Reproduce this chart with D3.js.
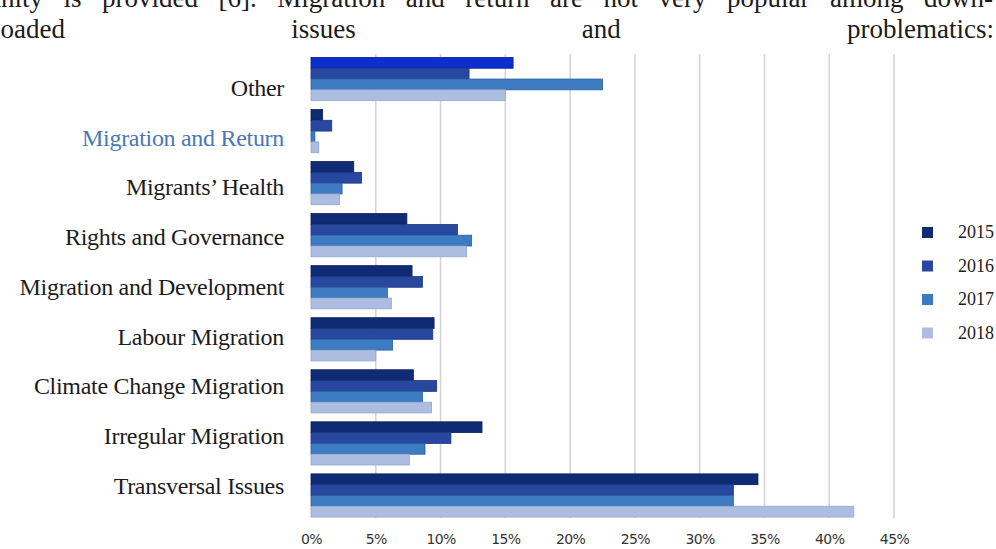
<!DOCTYPE html>
<html><head><meta charset="utf-8">
<script src="https://cdn.jsdelivr.net/npm/d3@7"></script>
<style>
html,body{margin:0;padding:0;background:#fff;overflow:hidden}
svg{display:block}
</style></head>
<body>
<svg id="chart" width="996" height="549"></svg>
<script>
// Share of downloads by topic, per year (percent)
const categories = [
  "Other",
  "Migration and Return",
  "Migrants’ Health",
  "Rights and Governance",
  "Migration and Development",
  "Labour Migration",
  "Climate Change Migration",
  "Irregular Migration",
  "Transversal Issues"
];
const years = ["2015", "2016", "2017", "2018"];
const values2015 = [15.6, 0.9, 3.3, 7.4, 7.8, 9.5, 7.9, 13.2, 34.5];
const values2016 = [12.2, 1.6, 3.9, 11.3, 8.6, 9.4, 9.7, 10.8, 32.6];
const values2017 = [22.5, 0.3, 2.4, 12.4, 5.9, 6.3, 8.6, 8.8, 32.6];
const values2018 = [15.0, 0.6, 2.2, 12.0, 6.2, 5.0, 9.3, 7.6, 41.9];
const tickValues = [0, 5, 10, 15, 20, 25, 30, 35, 40, 45];
const tickLabels = ["0%", "5%", "10%", "15%", "20%", "25%", "30%", "35%", "40%", "45%"];
const textLine1 = "community is provided [6]. Migration and return are not very popular among down-";
const textLine2 = "loaded issues and problematics:";

const seriesValues = [values2015, values2016, values2017, values2018];
const rows = [];
categories.forEach((c, i) => years.forEach((y, j) => rows.push({ category: c, year: y, value: seriesValues[j][i] })));

const yearColor = d3.scaleOrdinal().domain(years).range(["#0f2b74", "#28489f", "#3d7bc2", "#adbde0"]);
const yearStroke = d3.scaleOrdinal().domain(years).range(["#0a1f58", "#1c367e", "#2d609f", "#94a6cf"]);
const selectedCategory = "Other", selectedYear = "2015";

const svg = d3.select("#chart");

// surrounding paragraph text, justified across the page width
function justified(str, x0, x1, baseline) {
  const t = svg.append("text")
    .attr("x", x0).attr("y", baseline)
    .attr("font-family", "Liberation Serif, serif")
    .attr("font-size", 27).attr("fill", "#1b1b1b")
    .text(str);
  const natural = t.node().getComputedTextLength();
  const gaps = str.split(" ").length - 1;
  t.attr("word-spacing", ((x1 - x0) - natural) / gaps);
}
justified(textLine1, -80, 993, 7);
justified(textLine2, -7, 994, 38);

const x = d3.scaleLinear().domain([0, 45]).range([311, 894]);
const y = d3.scaleBand().domain(categories).range([53, 521.5]).paddingInner(0.17).paddingOuter(0.085);
const yInner = d3.scaleBand().domain(years).range([0, y.bandwidth()]);
const labelY = d3.scalePoint().domain(categories).range([88, 486]);

// vertical gridlines
svg.append("g").selectAll("line").data(tickValues.slice(1)).join("line")
  .attr("x1", d => x(d)).attr("x2", d => x(d))
  .attr("y1", 54).attr("y2", 518)
  .attr("stroke", "#d5d5d5").attr("stroke-width", 1.6);

// bars
svg.append("g").selectAll("rect").data(rows).join("rect")
  .attr("x", x(0))
  .attr("y", d => y(d.category) + yInner(d.year))
  .attr("width", d => x(d.value) - x(0))
  .attr("height", yInner.bandwidth())
  .attr("fill", d => (d.category === selectedCategory && d.year === selectedYear) ? "#0b2fcc" : yearColor(d.year))
  .attr("stroke", d => (d.category === selectedCategory && d.year === selectedYear) ? "#08208f" : yearStroke(d.year))
  .attr("stroke-width", 0.8);

// x axis tick labels
const xAxis = d3.axisBottom(x).tickValues(tickValues).tickFormat((d, i) => tickLabels[i]).tickSize(0).tickPadding(0);
const gx = svg.append("g").attr("transform", "translate(0,534)").call(xAxis);
gx.select(".domain").remove();
gx.selectAll("text").attr("font-family", "DejaVu Sans, sans-serif").attr("font-size", 14)
  .attr("letter-spacing", -0.6).attr("fill", "#333");

// category labels
svg.append("g").selectAll("text").data(categories).join("text")
  .attr("x", 284).attr("y", d => labelY(d)).attr("dy", "0.33em")
  .attr("text-anchor", "end")
  .attr("font-family", "Liberation Serif, serif").attr("font-size", 24)
  .attr("letter-spacing", -0.3)
  .attr("fill", d => d === "Migration and Return" ? "#4a78b6" : "#1c1c1c")
  .text(d => d);

// legend
const legendY = d3.scalePoint().domain(years).range([232.5, 333]);
const lg = svg.append("g").selectAll("g").data(years).join("g")
  .attr("transform", d => `translate(922,${legendY(d)})`);
lg.append("rect").attr("x", 0).attr("y", -5.5).attr("width", 11).attr("height", 11)
  .attr("fill", d => yearColor(d));
lg.append("text").attr("x", 36).attr("dy", "0.33em")
  .attr("font-family", "Liberation Serif, serif").attr("font-size", 18).attr("fill", "#1c1c1c")
  .text(d => d);
</script>
</body></html>
